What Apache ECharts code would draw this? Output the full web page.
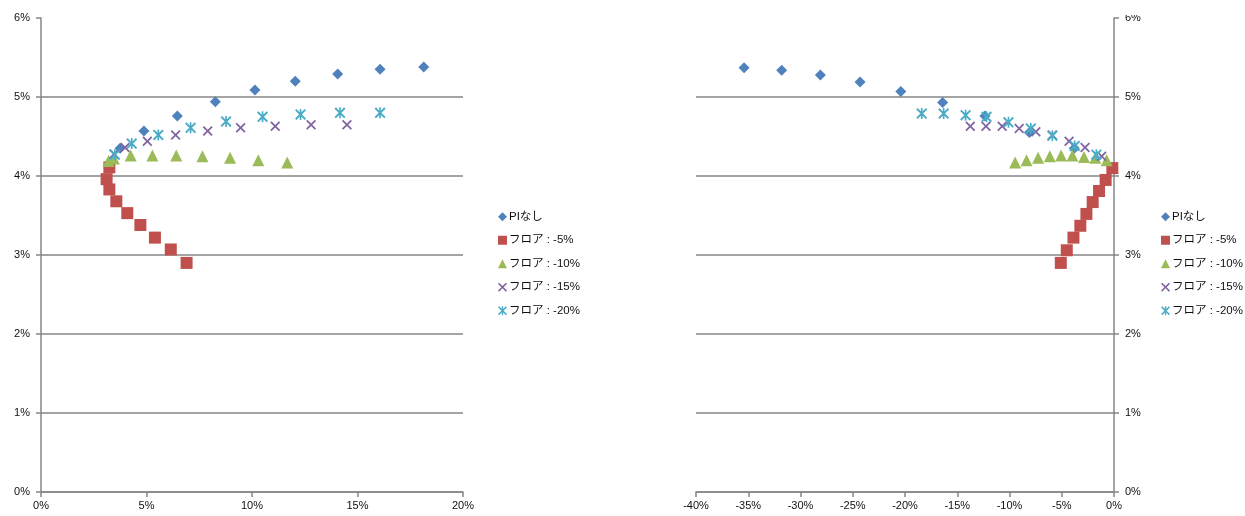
<!DOCTYPE html>
<html>
<head>
<meta charset="utf-8">
<script src="https://cdn.jsdelivr.net/npm/echarts@6/dist/echarts.min.js"></script>
<style>
html,body{margin:0;padding:0;background:#fff;}
#chart{width:1245px;height:516px;}
</style>
</head>
<body>
<div id="chart"></div>
<script>
// ---- data (values in %) ----
var seriesNames = ['PIなし', 'フロア : -5%', 'フロア : -10%', 'フロア : -15%', 'フロア : -20%'];

// Left chart
var leftX_PI   = [3.75, 4.88, 6.46, 8.26, 10.14, 12.05, 14.06, 16.07, 18.14];
var leftY_PI   = [4.35, 4.57, 4.76, 4.94, 5.09, 5.20, 5.29, 5.35, 5.38];
var leftX_F5   = [3.24, 3.11, 3.24, 3.57, 4.09, 4.71, 5.40, 6.15, 6.90];
var leftY_F5   = [4.11, 3.96, 3.83, 3.68, 3.53, 3.38, 3.22, 3.07, 2.90];
var leftX_F10  = [3.20, 3.45, 4.25, 5.28, 6.41, 7.65, 8.96, 10.30, 11.67];
var leftY_F10  = [4.19, 4.22, 4.26, 4.26, 4.26, 4.25, 4.23, 4.20, 4.17];
var leftX_F15  = [3.46, 3.98, 5.04, 6.38, 7.90, 9.46, 11.10, 12.80, 14.50];
var leftY_F15  = [4.28, 4.36, 4.44, 4.52, 4.57, 4.61, 4.63, 4.65, 4.65];
var leftX_F20  = [3.50, 4.30, 5.56, 7.09, 8.77, 10.50, 12.30, 14.17, 16.07];
var leftY_F20  = [4.27, 4.41, 4.52, 4.61, 4.69, 4.75, 4.78, 4.80, 4.80];

// Right chart
var rightX_PI  = [-35.4, -31.8, -28.1, -24.3, -20.4, -16.4, -12.35, -8.1, -3.8];
var rightY_PI  = [5.37, 5.34, 5.28, 5.19, 5.07, 4.93, 4.76, 4.55, 4.35];
var rightX_F5  = [-5.09, -4.52, -3.88, -3.22, -2.64, -2.04, -1.43, -0.80, -0.16];
var rightY_F5  = [2.90, 3.06, 3.22, 3.37, 3.52, 3.67, 3.81, 3.95, 4.10];
var rightX_F10 = [-9.46, -8.37, -7.26, -6.14, -5.06, -3.98, -2.87, -1.79, -0.70];
var rightY_F10 = [4.17, 4.20, 4.23, 4.25, 4.26, 4.26, 4.24, 4.23, 4.20];
var rightX_F15 = [-13.75, -12.25, -10.7, -9.07, -7.48, -5.9, -4.3, -2.77, -1.18];
var rightY_F15 = [4.63, 4.63, 4.63, 4.60, 4.56, 4.52, 4.44, 4.36, 4.25];
var rightX_F20 = [-18.4, -16.3, -14.2, -12.2, -10.1, -7.96, -5.9, -3.76, -1.69];
var rightY_F20 = [4.79, 4.79, 4.77, 4.75, 4.68, 4.60, 4.51, 4.38, 4.27];

// ---- styling ----
var colors = ['#4F81BD', '#C0504D', '#9BBB59', '#8064A2', '#4BACC6'];
var xPath = 'path://M0,1.5 L1.5,0 L6,4.5 L10.5,0 L12,1.5 L7.5,6 L12,10.5 L10.5,12 L6,7.5 L1.5,12 L0,10.5 L4.5,6 Z';
var starPath = 'path://M0,1.5 L1.5,0 L6,4.5 L10.5,0 L12,1.5 L7.5,6 L12,10.5 L10.5,12 L6,7.5 L1.5,12 L0,10.5 L4.5,6 Z M5.1,0 L6.9,0 L6.9,12 L5.1,12 Z';
var symbols = ['diamond', 'rect', 'triangle', xPath, starPath];
var sizes = [11, 12, 12, 10, 11];

function zip(xs, ys) { return xs.map(function (x, i) { return [x, ys[i]]; }); }
var leftData = [zip(leftX_PI, leftY_PI), zip(leftX_F5, leftY_F5), zip(leftX_F10, leftY_F10), zip(leftX_F15, leftY_F15), zip(leftX_F20, leftY_F20)];
var rightData = [zip(rightX_PI, rightY_PI), zip(rightX_F5, rightY_F5), zip(rightX_F10, rightY_F10), zip(rightX_F15, rightY_F15), zip(rightX_F20, rightY_F20)];

var axisColor = '#868686';
var labelFont = { color: '#111', fontSize: 11, fontFamily: 'Liberation Sans, Arial, sans-serif' };
var gridColors = [axisColor, axisColor, axisColor, axisColor, axisColor, axisColor, 'rgba(0,0,0,0)'];

function xAxisCfg(idx, min, max) {
  return {
    type: 'value', gridIndex: idx, min: min, max: max, interval: 5,
    axisLine: { show: true, onZero: false, lineStyle: { color: axisColor, width: 1.5 } },
    axisTick: { show: true, inside: false, length: 5, lineStyle: { color: axisColor, width: 1.5 } },
    splitLine: { show: false },
    axisLabel: Object.assign({ formatter: '{value}%', margin: 8 }, labelFont)
  };
}
function yAxisCfg(idx, pos) {
  return {
    type: 'value', gridIndex: idx, min: 0, max: 6, interval: 1, position: pos,
    axisLine: { show: true, onZero: false, lineStyle: { color: axisColor, width: 1.5 } },
    axisTick: { show: true, inside: false, length: 5, lineStyle: { color: axisColor, width: 1.5 } },
    splitLine: { show: true, lineStyle: { color: gridColors, width: 1.5 } },
    axisLabel: Object.assign({ formatter: '{value}%', margin: 11 }, labelFont)
  };
}

var series = [];
[leftData, rightData].forEach(function (set, gi) {
  set.forEach(function (d, i) {
    series.push({
      name: seriesNames[i], type: 'scatter',
      xAxisIndex: gi, yAxisIndex: gi,
      data: d, symbol: symbols[i], symbolSize: sizes[i],
      itemStyle: { color: colors[i], opacity: 1 },
      emphasis: { disabled: true },
      z: 2 + i
    });
  });
});

function legendCfg(left) {
  return {
    orient: 'vertical', left: left, top: 206, itemGap: 12,
    itemWidth: 9, itemHeight: 9,
    data: seriesNames,
    textStyle: { color: '#111', fontSize: 11.5, fontFamily: 'Liberation Sans, Arial, Noto Sans CJK JP, sans-serif', padding: [0, 0, 0, -3] },
    selectedMode: false
  };
}

var chart = echarts.init(document.getElementById('chart'), null, { renderer: 'canvas' });
chart.setOption({
  animation: false,
  backgroundColor: '#fff',
  grid: [
    { left: 41, top: 18, width: 422, height: 474 },
    { left: 696, top: 18, width: 418, height: 474 }
  ],
  xAxis: [xAxisCfg(0, 0, 20), xAxisCfg(1, -40, 0)],
  yAxis: [yAxisCfg(0, 'left'), yAxisCfg(1, 'right')],
  legend: [legendCfg(493), legendCfg(1156)],
  series: series,
  graphic: [{
    type: 'rect', shape: { x: 1119, y: 0, width: 60, height: 15 },
    style: { fill: '#fff' }, z: 100
  }]
});
</script>
</body>
</html>
